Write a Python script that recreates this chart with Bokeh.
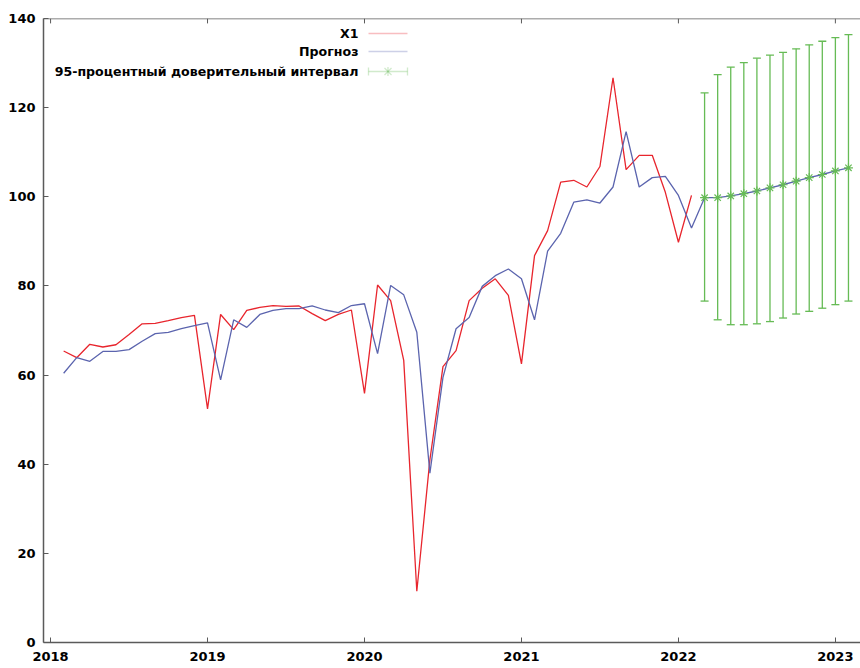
import pandas as pd
from bokeh.plotting import figure
from bokeh.models import (Range1d, FixedTicker, Whisker, TeeHead, Span,
                          ColumnDataSource, Label, PolyAnnotation)
from bokeh.embed import file_html
from bokeh.resources import INLINE

# ---------------- data ----------------
hist_start = "2018-02"
hist_end = "2022-02"
fc_start = "2022-03"
fc_end = "2023-02"

x1_values = [65.4, 63.9, 66.9, 66.3, 66.8, 69.1, 71.5, 71.6, 72.2, 72.9, 73.4,
             52.4, 73.6, 70.2, 74.5, 75.2, 75.6, 75.4, 75.5, 73.8, 72.2, 73.6, 74.6,
             55.9, 80.2, 76.7, 63.3, 11.5, 41.0, 61.9, 65.5, 76.7, 79.5, 81.6, 77.9,
             62.5, 86.8, 92.4, 103.3, 103.7, 102.2, 106.8, 126.7, 106.1, 109.3, 109.3, 101.0,
             89.8, 100.3]

fitted_values = [60.4, 63.9, 63.1, 65.3, 65.3, 65.7, 67.6, 69.3, 69.6, 70.4, 71.1,
                 71.7, 58.9, 72.4, 70.7, 73.6, 74.5, 74.9, 74.9, 75.5, 74.6, 74.0, 75.6,
                 76.0, 64.8, 80.1, 78.0, 69.6, 38.0, 59.5, 70.4, 72.9, 79.9, 82.3, 83.8,
                 81.6, 72.4, 87.8, 91.8, 98.8, 99.3, 98.6, 102.2, 114.6, 102.2, 104.3, 104.6,
                 100.3, 93.0]

forecast_values = [99.8, 99.8, 100.2, 100.7, 101.3, 102.0, 102.7, 103.5, 104.3, 105.0, 105.8, 106.5]
ci_lower = [76.6, 72.4, 71.3, 71.3, 71.5, 72.0, 72.8, 73.7, 74.3, 75.0, 75.8, 76.6]
ci_upper = [123.3, 127.4, 129.1, 130.1, 131.1, 131.8, 132.4, 133.2, 134.1, 134.9, 135.7, 136.4]

year_ticks = [2018, 2019, 2020, 2021, 2022, 2023]
value_ticks = [0, 20, 40, 60, 80, 100, 120, 140]

legend_labels = ["X1", "Прогноз", "95-процентный доверительный интервал"]


def to_decimal(periods):
    return [p.year + (p.month - 1) / 12.0 for p in periods]


hist_x = to_decimal(pd.period_range(hist_start, hist_end, freq="M"))
fc_x = to_decimal(pd.period_range(fc_start, fc_end, freq="M"))

# ---------------- styles ----------------
RED = "#e8252d"
BLUE = "#5b64ae"
GREEN = "#66bb55"
AXIS = "#5a5a5a"
FONT = "DejaVu Sans"

Y_MAX = 140
p = figure(width=860, height=668, output_backend="svg", toolbar_location=None,
           x_range=Range1d(2017.955, 2023.16), y_range=Range1d(0, Y_MAX),
           min_border_left=43, min_border_right=0, min_border_top=18, min_border_bottom=26)
p.outline_line_color = None
p.xgrid.visible = False
p.ygrid.visible = False
p.background_fill_color = "white"
p.border_fill_color = "white"

for ax in (p.xaxis[0], p.yaxis[0]):
    ax.axis_line_color = AXIS
    ax.axis_line_width = 1.5
    ax.major_tick_line_color = AXIS
    ax.major_tick_in = 5
    ax.major_tick_out = 0
    ax.minor_tick_line_color = None
    ax.major_label_text_font = FONT
    ax.major_label_text_font_style = "bold"
    ax.major_label_text_font_size = "13px"
    ax.major_label_text_color = "black"

p.xaxis[0].ticker = FixedTicker(ticks=year_ticks)
p.xaxis[0].major_label_standoff = 9
p.yaxis[0].ticker = FixedTicker(ticks=value_ticks)
p.yaxis[0].major_label_standoff = 8

# top border of the frame with inward ticks (gnuplot style)
p.add_layout(Span(location=Y_MAX, dimension="width", line_color=AXIS, line_width=1.5))
p.segment(x0=year_ticks, y0=[Y_MAX] * len(year_ticks), x1=year_ticks,
          y1=[Y_MAX - 1.1] * len(year_ticks), line_color=AXIS, line_width=1)

# ---------------- series ----------------
p.line(hist_x, x1_values, line_color=RED, line_width=1.3)
p.line(hist_x + fc_x, fitted_values + forecast_values, line_color=BLUE, line_width=1.3)

ci_src = ColumnDataSource(dict(x=fc_x, y=forecast_values, lo=ci_lower, hi=ci_upper))
wh = Whisker(base="x", lower="lo", upper="hi", source=ci_src, line_color=GREEN, line_width=1.3,
             upper_head=TeeHead(size=8, line_color=GREEN, line_width=1.3),
             lower_head=TeeHead(size=8, line_color=GREEN, line_width=1.3))
p.add_layout(wh)
p.scatter("x", "y", source=ci_src, marker="asterisk", size=9, line_color=GREEN, line_width=1.2)

# ---------------- legend (gnuplot style: text right, sample right) ----------------
text_right = 315
sample_l, sample_r = 325, 364
rows_y = [609, 591, 571]
for lab, yy in zip(legend_labels, rows_y):
    p.add_layout(Label(x=text_right, y=yy, x_units="screen", y_units="screen", text=lab,
                       text_align="right", text_baseline="middle", text_font=FONT,
                       text_font_style="bold", text_font_size="12.6px", text_color="black"))


def seg(x0, y0, x1, y1, color):
    p.add_layout(PolyAnnotation(xs=[x0, x1], ys=[y0, y1], xs_units="screen", ys_units="screen",
                                fill_color=None, fill_alpha=0, line_color=color, line_width=1.3))


seg(sample_l, rows_y[0], sample_r, rows_y[0], RED)
seg(sample_l, rows_y[1], sample_r, rows_y[1], BLUE)
yy = rows_y[2]
seg(sample_l, yy, sample_r, yy, GREEN)
seg(sample_l, yy - 4, sample_l, yy + 4, GREEN)
seg(sample_r, yy - 4, sample_r, yy + 4, GREEN)
cx = (sample_l + sample_r) / 2
seg(cx, yy - 4.5, cx, yy + 4.5, GREEN)
seg(cx - 3.5, yy - 3.5, cx + 3.5, yy + 3.5, GREEN)
seg(cx - 3.5, yy + 3.5, cx + 3.5, yy - 3.5, GREEN)

open("out.html", "w").write(file_html(p, INLINE))
